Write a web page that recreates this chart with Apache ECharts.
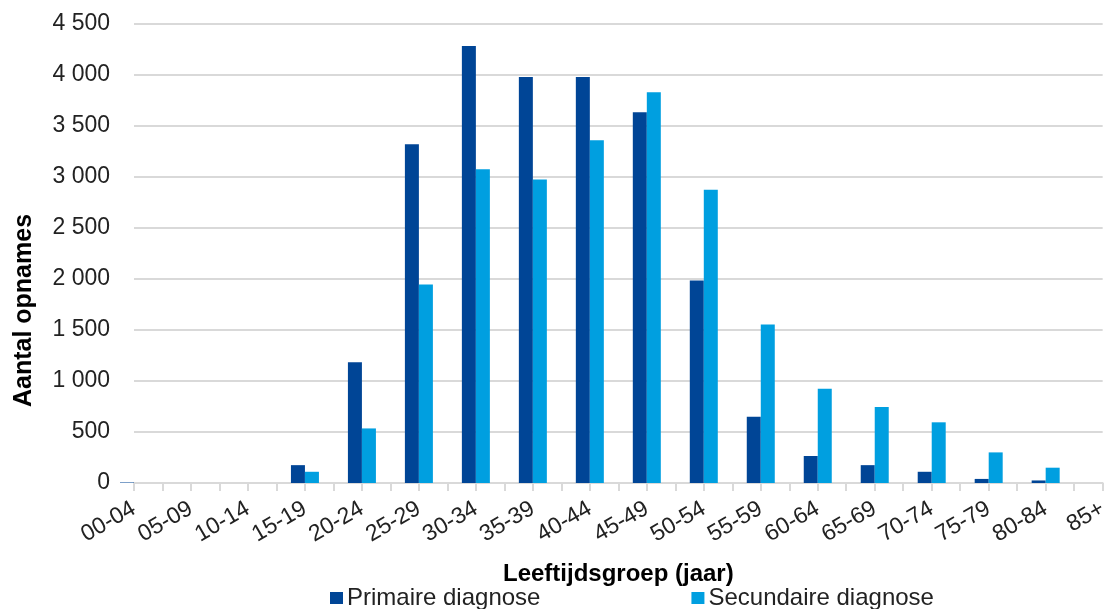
<!DOCTYPE html>
<html>
<head>
<meta charset="utf-8">
<script src="https://cdn.jsdelivr.net/npm/echarts@6/dist/echarts.min.js"></script>
<style>
html,body{margin:0;padding:0;background:#fff;}
#chart{width:1111px;height:609px;}
</style>
</head>
<body>
<div id="chart"></div>
<script>
const categories = ['00-04','05-09','10-14','15-19','20-24','25-29','30-34','35-39','40-44','45-49','50-54','55-59','60-64','65-69','70-74','75-79','80-84','85+'];
const primaire = [5,0,0,175,1185,3320,4285,3980,3980,3635,1985,650,265,175,110,40,25,0];
const secundaire = [0,0,0,110,535,1945,3075,2975,3360,3830,2875,1555,925,745,595,300,150,0];
const seriesNames = ['Primaire diagnose','Secundaire diagnose'];
const yTicks = [0,500,1000,1500,2000,2500,3000,3500,4000,4500];

const halfTicks = [];
for (let i = 0; i < categories.length * 2 - 1; i++) halfTicks.push(String(i));

const FONT = '"Liberation Sans", Arial, sans-serif';
const chart = echarts.init(document.getElementById('chart'), null, {renderer:'canvas'});
chart.setOption({
  animation:false,
  textStyle:{fontFamily:FONT},
  grid:{left:134, right:3, top:24, bottom:126, containLabel:false},
  legend:{
    top:581, left:325, itemGap:151, itemWidth:13, itemHeight:12, icon:'rect',
    textStyle:{fontFamily:FONT, fontSize:24, color:'#222', padding:[0,0,0,-1]},
    data:seriesNames
  },
  xAxis:[{
    type:'category', data:categories, boundaryGap:false,
    axisLine:{show:true, lineStyle:{color:'#d9d9d9', width:2}},
    axisTick:{show:true, interval:0, length:8, lineStyle:{color:'#d9d9d9', width:2}},
    axisLabel:{interval:0, rotate:30, margin:24, fontFamily:FONT, fontSize:23, color:'#222'},
    name:'Leeftijdsgroep (jaar)', nameLocation:'middle', nameGap:79,
    nameTextStyle:{fontFamily:FONT, fontSize:24, fontWeight:'bold', color:'#000'}
  },{
    type:'category', data:halfTicks, boundaryGap:false, position:'bottom',
    axisLine:{show:false},
    axisTick:{show:true, interval:0, length:8, lineStyle:{color:'#d9d9d9', width:2}},
    axisLabel:{show:false}
  }],
  yAxis:{
    type:'value', min:yTicks[0], max:yTicks[yTicks.length-1], interval:500,
    axisLine:{show:false}, axisTick:{show:false},
    splitLine:{lineStyle:{color:'#d9d9d9', width:2}},
    axisLabel:{margin:24, fontFamily:FONT, fontSize:23, color:'#222',
      formatter:v => String(v).replace(/\B(?=(\d{3})+(?!\d))/g,' ')},
    name:'Aantal opnames', nameLocation:'middle', nameGap:97,
    nameTextStyle:{fontFamily:FONT, fontSize:25, fontWeight:'bold', color:'#000', padding:[0,114,0,0]}
  },
  series:[{
    name:seriesNames[0], type:'bar', xAxisIndex:0, data:primaire,
    barWidth:14, barGap:'0%',
    itemStyle:{color:'#004596'}
  },{
    name:seriesNames[1], type:'bar', xAxisIndex:0, data:secundaire,
    barWidth:14, barGap:'0%',
    itemStyle:{color:'#009FE0'}
  }]
});
</script>
</body>
</html>
